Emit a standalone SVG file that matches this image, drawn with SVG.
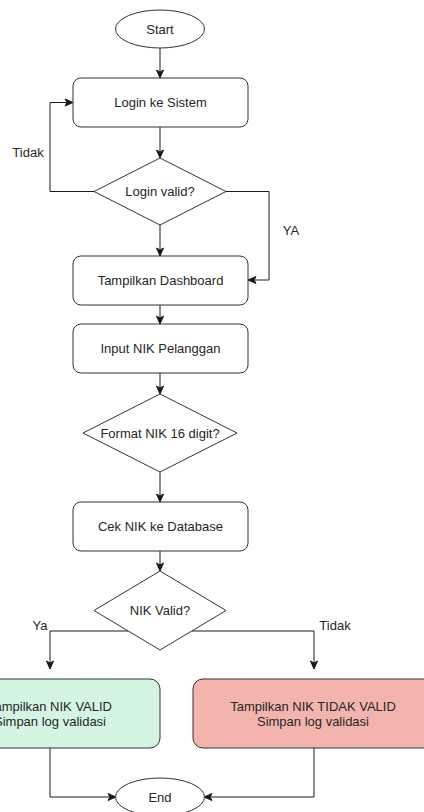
<svg xmlns="http://www.w3.org/2000/svg" width="424" height="812" viewBox="0 0 424 812">
<defs>
<marker id="arr" markerUnits="userSpaceOnUse" markerWidth="10" markerHeight="10" viewBox="0 0 10 10" refX="9" refY="5" orient="auto">
<path d="M1,1.5 L9,5 L1,8.5 L3,5 Z" fill="#1a1a1a" stroke="#1a1a1a" stroke-width="1"/>
</marker>
</defs>
<style>
.box{fill:#ffffff;stroke:#333333;stroke-width:1}
.t{font-family:"Liberation Sans",Arial,sans-serif;font-size:13px;fill:#262626;text-anchor:middle}
.e{fill:none;stroke:#1a1a1a;stroke-width:1;marker-end:url(#arr)}
</style>
<rect width="424" height="812" fill="#ffffff"/>
<g id="connectors">
<path class="e" d="M160,48 L160,78"/>
<path class="e" d="M160,127 L160,158"/>
<path class="e" d="M94,191.5 L50,191.5 L50,102.5 L73,102.5"/>
<path class="e" d="M226,191.5 L269,191.5 L269,280 L248,280"/>
<path class="e" d="M160,225 L160,256"/>
<path class="e" d="M160,305 L160,324"/>
<path class="e" d="M160,373 L160,394"/>
<path class="e" d="M160,472 L160,502"/>
<path class="e" d="M160,551 L160,571"/>
<path class="e" d="M128,631 L50,631 L50,669"/>
<path class="e" d="M192,631 L314,631 L314,669"/>
<path class="e" d="M50,748 L50,797 L116,797"/>
<path class="e" d="M314,748 L314,797 L204,797"/>
<text class="t" x="28" y="156.5">Tidak</text>
<text class="t" x="291" y="234.5">YA</text>
<text class="t" x="40" y="629.5">Ya</text>
<text class="t" x="335" y="629.5">Tidak</text>
</g>
<g id="start">
<ellipse class="box" cx="160" cy="29" rx="44.5" ry="19"/>
<text class="t" x="160" y="33.5">Start</text>
</g>
<g id="login">
<rect class="box" x="73" y="78" width="175" height="49" rx="8"/>
<text class="t" x="160.5" y="107">Login ke Sistem</text>
</g>
<g id="login-valid">
<polygon class="box" points="160,158 226,191.5 160,225 94,191.5"/>
<text class="t" x="160" y="196">Login valid?</text>
</g>
<g id="dashboard">
<rect class="box" x="73" y="256" width="175" height="49" rx="8"/>
<text class="t" x="160.5" y="285">Tampilkan Dashboard</text>
</g>
<g id="input-nik">
<rect class="box" x="73" y="324" width="175" height="49" rx="8"/>
<text class="t" x="160.5" y="353">Input NIK Pelanggan</text>
</g>
<g id="format-nik">
<polygon class="box" points="160,394 237,433 160,472 83,433"/>
<text class="t" x="160" y="437.5">Format NIK 16 digit?</text>
</g>
<g id="cek-nik">
<rect class="box" x="73" y="502" width="175" height="49" rx="8"/>
<text class="t" x="160.5" y="531">Cek NIK ke Database</text>
</g>
<g id="nik-valid">
<polygon class="box" points="160,571 226,610.5 160,650 94,610.5"/>
<text class="t" x="160" y="615">NIK Valid?</text>
</g>
<g id="valid">
<rect x="-60" y="679" width="220" height="69" rx="10" fill="#d5f5e3" stroke="#333333" stroke-width="1"/>
<text class="t" x="50" y="710.5">Tampilkan NIK VALID</text>
<text class="t" x="50" y="725.5">Simpan log validasi</text>
</g>
<g id="tidak-valid">
<rect x="193" y="679" width="242" height="69" rx="10" fill="#f4b4ae" stroke="#333333" stroke-width="1"/>
<text class="t" x="313" y="710.5">Tampilkan NIK TIDAK VALID</text>
<text class="t" x="313" y="725.5">Simpan log validasi</text>
</g>
<g id="end">
<ellipse class="box" cx="160" cy="797" rx="44.5" ry="19"/>
<text class="t" x="160" y="801.5">End</text>
</g>
</svg>
